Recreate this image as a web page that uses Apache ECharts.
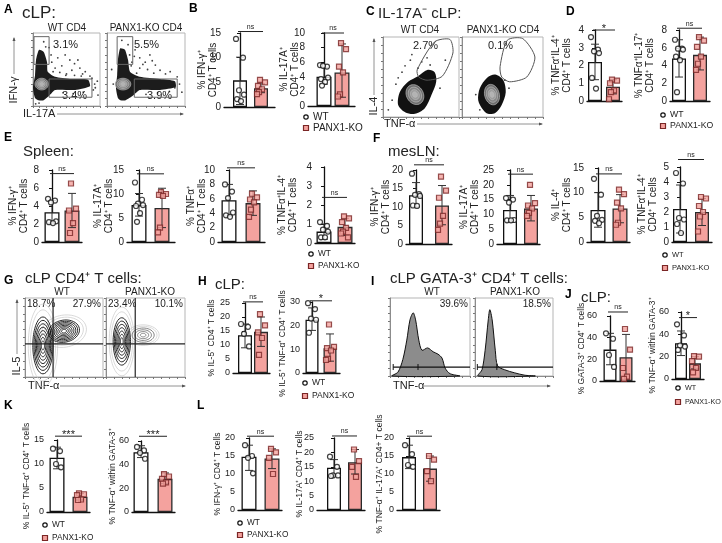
<!DOCTYPE html>
<html><head><meta charset="utf-8"><title>PANX1 figure</title>
<script src="https://cdn.jsdelivr.net/npm/echarts/dist/echarts.min.js"></script>
<style>html,body{margin:0;padding:0;background:#fff}#main{width:722px;height:543px}</style>
</head><body><div id="main"></div>
<script>
var FONT = '"Liberation Sans", Arial, sans-serif';
var PINK = '#F4A29E';
var GROUPS = ['WT', 'PANX1-KO'];
var JIT = [-4, 3, -1, 4, -3, 1, -2];

// ---- bar panel data: mean, [low, high] error ends, individual points ----
// B  cLP
var B1_mean = [5.4, 3.8], B1_err = [[0.5, 10.1], [2.9, 4.7]];
var B1_wt = [13.8, 10.0, 3.4, 2.5, 1.6, 1.2], B1_ko = [5.5, 5.0, 4.3, 3.6, 3.0, 2.6];
var B2_mean = [4.0, 4.6], B2_err = [[3.0, 5.3], [1.2, 8.5]];
var B2_wt = [5.6, 5.4, 5.5, 3.9, 3.7, 3.3, 2.8], B2_ko = [8.6, 7.8, 5.4, 4.6, 1.6, 1.3];
// D  IL-17A- cLP
var D1_mean = [2.2, 0.8], D1_err = [[1.2, 3.2], [0.4, 1.2]];
var D1_wt = [3.6, 2.9, 2.8, 2.7, 1.3, 0.7], D1_ko = [1.2, 1.15, 1.0, 0.6, 0.5, 0.1];
var D2_mean = [4.8, 5.2], D2_err = [[2.7, 6.9], [3.5, 7.2]];
var D2_wt = [6.9, 5.9, 5.9, 5.8, 5.0, 4.6, 1.0], D2_ko = [7.2, 6.8, 6.1, 5.0, 4.2, 3.5];
// E  spleen
var E1_mean = [3.3, 3.5], E1_err = [[2.1, 4.6], [1.6, 5.4]];
var E1_wt = [4.8, 4.6, 4.4, 2.3, 2.2, 2.1], E1_ko = [6.5, 3.7, 3.5, 2.1, 1.0];
var E2_mean = [7.7, 7.1], E2_err = [[5.4, 10.1], [3.0, 11.2]];
var E2_wt = [12.4, 8.8, 8.0, 7.7, 7.5, 6.0, 4.2], E2_ko = [10.4, 10.0, 9.8, 9.6, 3.0, 2.0];
var E3_mean = [5.8, 5.4], E3_err = [[3.6, 8.0], [3.7, 7.1]];
var E3_wt = [8.0, 7.0, 6.1, 4.1, 3.7, 3.5], E3_ko = [6.7, 6.2, 5.9, 5.5, 4.5, 3.5];
var E4_mean = [0.6, 0.85], E4_err = [[0.2, 1.0], [0.4, 1.3]];
var E4_wt = [1.1, 0.9, 0.7, 0.6, 0.3, 0.3], E4_ko = [1.4, 1.3, 1.1, 0.8, 0.6, 0.5, 0.3];
// F  mesLN
var F1_mean = [13.2, 10.4], F1_err = [[10.0, 16.6], [5.2, 15.8]];
var F1_wt = [19.0, 13.5, 13.3, 13.0, 10.4, 10.3], F1_ko = [18.2, 14.4, 12.5, 7.6, 5.5, 3.8];
var F2_mean = [11.5, 12.0], F2_err = [[7.5, 16.4], [7.8, 16.4]];
var F2_wt = [15.5, 15.0, 14.0, 8.1, 8.0, 8.0], F2_ko = [20.0, 13.8, 13.0, 12.0, 10.5, 9.5];
var F3_mean = [6.5, 6.8], F3_err = [[3.0, 10.0], [3.9, 9.6]];
var F3_wt = [12.8, 9.6, 5.3, 4.5, 4.3, 3.8], F3_ko = [10.6, 9.7, 8.0, 6.8, 3.9, 3.5];
var F4_mean = [2.2, 2.0], F4_err = [[0.6, 3.8], [1.1, 2.9]];
var F4_wt = [4.6, 3.9, 1.6, 1.5, 1.2, 0.6], F4_ko = [3.0, 2.9, 2.4, 2.0, 1.7, 0.7];
// H  cLP IL-5
var H1_mean = [13.5, 14.7], H1_err = [[9.0, 17.5], [9.5, 20.0]];
var H1_wt = [17.5, 16.5, 14.0, 9.5], H1_ko = [21.0, 17.0, 14.5, 12.5, 6.5];
var H2_mean = [22.5, 10.5], H2_err = [[18.0, 27.5], [5.0, 16.5]];
var H2_wt = [29.5, 27.0, 23.0, 22.5, 17.0], H2_ko = [20.5, 11.0, 10.5, 9.5, 6.0, 5.5];
// J  cLP GATA-3
var J1_mean = [29, 22], J1_err = [[15, 44], [1, 43]];
var J1_wt = [44, 39, 24, 13], J1_ko = [48, 29, 12, 4, 2];
var J2_mean = [32, 14], J2_err = [[21, 43], [9, 20]];
var J2_wt = [49, 39, 30, 29, 26], J2_ko = [20.5, 20, 16, 10, 6];
// K
var K1_mean = [11.3, 3.2], K1_err = [[9.0, 13.5], [2.5, 3.9]];
var K1_wt = [13.2, 12.7, 10.0, 9.3], K1_ko = [3.9, 3.7, 3.5, 2.6, 2.5];
var K2_mean = [50.5, 28], K2_err = [[46, 56], [24, 33]];
var K2_wt = [55, 52, 50, 45], K2_ko = [32, 30, 28, 25, 24];
// L
var L1_mean = [14.8, 14.3], L1_err = [[11, 18], [11.5, 17]];
var L1_wt = [18, 15, 14.5, 10.2], L1_ko = [17, 16, 14.5, 10];
var L2_mean = [14.7, 16.6], L2_err = [[11.8, 17.5], [12.5, 21]];
var L2_wt = [18.5, 15, 12, 12, 11.8], L2_ko = [21, 17, 15, 11.5];
var L3_mean = [14.7, 11.5], L3_err = [[11.5, 18], [8, 15]];
var L3_wt = [18, 15.5, 12.5, 12], L3_ko = [15, 14, 10.8, 8];

// ---- flow cytometry shapes (axis units 0..100) ----
var A_wt_cloud = [[3,11],[0,25],[3,42],[4.5,63],[9,77],[16,74],[21,60],[22,47],[33,40],[55,37],[82,36],[85,27],[63,22],[33,22],[25,15],[16,8],[7.5,8]];
var A_wt_core = [[13,30,10,8,0]];
var A_wt_dots = [[28,60],[37,66],[48,70],[55,63],[67,63],[33,52],[43,55],[58,49],[70,52],[78,47],[85,41],[49,42],[19,81],[16,88],[4,3],[9,4],[93,25],[97,15],
                 [40,46],[50,44],[62,42],[72,41],[88,38],[92,30],[30,47],[27,70],[24,80],[62,58],[74,44],[45,18],[60,17],[75,19],[90,22],[96,34]];
var A_wt_gates = [[1.5,57,24,95],[24,12,88,37]];
var A_ko_cloud = [[14,11],[11.5,25],[13,42],[14,63],[17,79],[23,77],[27,63],[29.5,47],[42,40],[68,37],[87,34],[88,26],[68,22],[42,22],[33,14],[24,8],[17,8]];
var A_ko_core = [[20.5,30,10,8,0]];
var A_ko_dots = [[29,70],[36,77],[42,66],[49,60],[55,70],[62,56],[68,49],[42,52],[32,60],[27,84],[19,90],[81,47],[74,29],[87,25],[96,19],[58,62],
                 [35,68],[46,57],[52,50],[60,45],[75,44],[90,40],[38,45],[31,55],[8,30],[6,50],[50,16],[65,18],[80,20],[93,30]];
var A_ko_gates = [[13,57,33,95],[35,12,90,37]];
var A_pct = ['3.1%', '3.4%', '5.5%', '3.9%'];

var C_wt_gate = [[45,59],[68,94],[88,97],[92,80],[78,51],[58,46],[47,50]];
var C_wt_cloud = [[29,6],[20,15],[22,31],[33,44],[46,51],[59,59],[68,56],[70,44],[64,28],[55,11],[42,4]];
var C_wt_core = [[42,28,11,13,-30]];
var C_wt_dots = [[29,64],[36,71],[25,56],[17,41],[12,21],[7,9],[51,69],[46,61],[82,71],[75,36],[38,78],[20,49],[62,65],[58,74]];
var C_ko_gate = [[47,63],[56,96],[75,98],[90,75],[80,50],[59,44],[49,50]];
var C_ko_cloud = [[26,9],[20,21],[22,36],[31,49],[41,53],[51,46],[54,31],[49,15],[41,5],[32,4]];
var C_ko_core = [[37,28,9,13,-15]];
var C_ko_dots = [[17,28],[53,46],[58,36],[22,9]];
var C_pct = ['2.7%', '0.1%'];

var G_wt_black = [[23,40,13,36,0],[50,58,20,14,-10]];
var G_ko_black = [[20,45,11,30,0]];
var G_ko_gray = [[47,53,14,9,0]];
var G_wt_quad = [36, 42], G_ko_quad = [37, 42];
var G_pct = ['18.7%', '27.9%', '23.4%', '10.1%'];

var I_wt_hist = [[2.5,0],[10,5],[16,21],[21,46],[25,72],[29,81],[32,72],[36,46],[40,33],[47,36],[54,31],[60,28],[65,23],[69,10],[75,3],[87,0]];
var I_ko_hist = [[4,0],[9,8],[13,33],[17,72],[19,85],[22,72],[26,33],[29,13],[38,8],[51,4],[64,1],[77,0]];
var I_wt_gate = [4, 100, 11.5, 35], I_ko_gate = [3, 100, 11.5, 28];
var I_pct = ['39.6%', '18.5%'];

// ---------------------------------------------------------------
var grids = [], xAxes = [], yAxes = [], series = [], graphics = [];

function txt(x, y, s, size, opt) {
    opt = opt || {};
    graphics.push({type: 'text', x: x, y: y, rotation: opt.rot || 0, silent: true,
        style: {text: s, fontSize: size, fontFamily: FONT, fontWeight: opt.bold ? 'bold' : 'normal',
            fill: opt.color || '#222', align: opt.align || 'left', verticalAlign: opt.va || 'middle', lineHeight: opt.lh || size + 1}});
}

function addBarPanel(p) {
    var i = grids.length;
    var span = p.c1 - p.c0;
    var fs = p.fs || 10;
    grids.push({left: p.x0, top: p.yTop, width: p.x1 - p.x0, height: p.yBot - p.yTop, containLabel: false, outerBoundsMode: 'none'});
    xAxes.push({gridIndex: i, type: 'value', min: -(p.c0 - p.x0) / span, max: 1 + (p.x1 - p.c1) / span,
        axisLine: {show: true, onZero: false, lineStyle: {color: '#111', width: 1.3}},
        axisTick: {show: false}, axisLabel: {show: false}, splitLine: {show: false}});
    yAxes.push({gridIndex: i, type: 'value', min: 0, max: p.max, interval: p.step,
        axisLine: {show: true, lineStyle: {color: '#111', width: 1.3}},
        axisTick: {show: true, length: 3, lineStyle: {color: '#111', width: 1}},
        axisLabel: {fontSize: fs, margin: 3, color: '#222', fontFamily: FONT},
        splitLine: {show: false}});
    series.push({type: 'bar', xAxisIndex: i, yAxisIndex: i, barWidth: p.bw, silent: true, z: 2,
        data: [{value: [0, p.mean[0]], itemStyle: {color: '#fff', borderColor: '#111', borderWidth: 1.3}},
               {value: [1, p.mean[1]], itemStyle: {color: PINK, borderColor: '#2a2a2a', borderWidth: 1.3}}]});
    series.push({type: 'custom', xAxisIndex: i, yAxisIndex: i, silent: true, z: 4, clip: false,
        data: [[0, p.err[0][0], p.err[0][1]], [1, p.err[1][0], p.err[1][1]]],
        renderItem: function (params, api) {
            var x = api.value(0);
            var a = api.coord([x, api.value(1)]), b = api.coord([x, api.value(2)]);
            var c = 4, st = {stroke: '#333', lineWidth: 1};
            return {type: 'group', children: [
                {type: 'line', shape: {x1: a[0], y1: a[1], x2: b[0], y2: b[1]}, style: st},
                {type: 'line', shape: {x1: a[0] - c, y1: a[1], x2: a[0] + c, y2: a[1]}, style: st},
                {type: 'line', shape: {x1: b[0] - c, y1: b[1], x2: b[0] + c, y2: b[1]}, style: st}]};
        }});
    series.push({type: 'scatter', xAxisIndex: i, yAxisIndex: i, silent: true, z: 5, symbol: 'circle', symbolSize: 5,
        itemStyle: {color: '#fff', borderColor: '#111', borderWidth: 1.2},
        data: p.wt.map(function (v, k) { return {value: [0, v], symbolOffset: [JIT[k % JIT.length], 0]}; })});
    series.push({type: 'scatter', xAxisIndex: i, yAxisIndex: i, silent: true, z: 5, symbol: 'rect', symbolSize: 5,
        itemStyle: {color: PINK, borderColor: '#7a2626', borderWidth: 1.2},
        data: p.ko.map(function (v, k) { return {value: [1, v], symbolOffset: [JIT[(k + 2) % JIT.length], 0]}; })});
    var lab = p.sig[1];
    series.push({type: 'custom', xAxisIndex: i, yAxisIndex: i, silent: true, z: 6, clip: false,
        data: [[p.sig[0]]],
        renderItem: function (params, api) {
            var a = api.coord([0, api.value(0)]), b = api.coord([1, api.value(0)]);
            var star = lab !== 'ns';
            return {type: 'group', children: [
                {type: 'line', shape: {x1: a[0] - 2, y1: a[1], x2: b[0] + 2, y2: b[1]}, style: {stroke: '#222', lineWidth: 1}},
                {type: 'text', x: (a[0] + b[0]) / 2, y: star ? a[1] + 4 : a[1] - 1,
                    style: {text: lab, fontSize: star ? 11 : 7, fontFamily: FONT, fill: '#222', align: 'center', verticalAlign: 'bottom'}}]};
        }});
    txt(p.nx, (p.yTop + p.yBot) / 2 + (p.ny || 0), p.name, p.nfs || 10, {rot: Math.PI / 2, align: 'center', lh: (p.nfs || 10) + 1});
}

function addLegend(x, y1, y2, fs) {
    graphics.push({type: 'circle', silent: true, shape: {cx: x, cy: y1, r: 2.2}, style: {fill: '#fff', stroke: '#111', lineWidth: 1.2}});
    graphics.push({type: 'rect', silent: true, shape: {x: x - 2.5, y: y2 - 2.5, width: 5, height: 5}, style: {fill: PINK, stroke: '#7a2626', lineWidth: 1.2}});
    txt(x + 7, y1, GROUPS[0], fs);
    txt(x + 7, y2, GROUPS[1], fs);
}

function addFlowGrid(left, top, width, height) {
    var i = grids.length;
    grids.push({left: left, top: top, width: width, height: height, show: true, borderColor: '#b5b5b5', borderWidth: 1,
        backgroundColor: '#fff', containLabel: false, outerBoundsMode: 'none'});
    var ax = function () {
        return {gridIndex: i, type: 'value', min: 0, max: 100, interval: 10,
            axisLine: {show: true, onZero: false, lineStyle: {color: '#777', width: 0.8}},
            axisTick: {show: true, length: 2, lineStyle: {color: '#777'}},
            axisLabel: {show: false}, splitLine: {show: false}};
    };
    xAxes.push(ax()); yAxes.push(ax());
    return i;
}

function customOn(i, z, fn) {
    series.push({type: 'custom', xAxisIndex: i, yAxisIndex: i, silent: true, clip: false, z: z, data: [[0, 0]], renderItem: fn});
}

function polygon(i, pts, style, z) {
    customOn(i, z, function (params, api) {
        return {type: 'polygon', shape: {points: pts.map(function (q) { return api.coord(q); }), smooth: style.smooth || 0},
            style: {fill: style.fill || 'none', stroke: style.stroke || 'none', lineWidth: style.lw || 1}};
    });
}

function ellipse(api, b, s) {
    var c = api.coord([b[0], b[1]]), sz = api.size([b[2], b[3]]);
    var th = (b[4] || 0) * Math.PI / 180, pts = [];
    for (var k = 0; k < 40; k++) {
        var t = k / 40 * 2 * Math.PI;
        var ex = Math.cos(t) * sz[0] * s, ey = Math.sin(t) * sz[1] * s;
        pts.push([c[0] + ex * Math.cos(th) - ey * Math.sin(th), c[1] + ex * Math.sin(th) + ey * Math.cos(th)]);
    }
    return pts;
}

function rings(i, blobs, scales, style, z) {
    customOn(i, z, function (params, api) {
        var ch = [];
        blobs.forEach(function (b) {
            scales.forEach(function (s, k) {
                ch.push({type: 'polygon', shape: {points: ellipse(api, b, s), smooth: 0.3},
                    style: {fill: style.fill ? style.fill[k] : 'none', stroke: style.stroke, lineWidth: style.lw || 1}});
            });
        });
        return {type: 'group', children: ch};
    });
}

function dots(i, pts) {
    series.push({type: 'scatter', xAxisIndex: i, yAxisIndex: i, silent: true, z: 3, symbolSize: 1.8,
        itemStyle: {color: '#111'}, data: pts});
}

function arrowH(x1, x2, y) {
    graphics.push({type: 'line', silent: true, shape: {x1: x1, y1: y, x2: x2, y2: y}, style: {stroke: '#777', lineWidth: 0.8}});
    graphics.push({type: 'polygon', silent: true, shape: {points: [[x2 + 1, y], [x2 - 3, y - 1.5], [x2 - 3, y + 1.5]]}, style: {fill: '#555'}});
}
function arrowV(x, y1, y2) {
    graphics.push({type: 'line', silent: true, shape: {x1: x, y1: y1, x2: x, y2: y2}, style: {stroke: '#777', lineWidth: 0.8}});
    graphics.push({type: 'polygon', silent: true, shape: {points: [[x, y2 - 1], [x - 1.5, y2 + 3], [x + 1.5, y2 + 3]]}, style: {fill: '#555'}});
}

// ---------------- panel letters and titles ----------------
[['A', 4, 10], ['B', 189, 9], ['C', 366, 12], ['D', 566, 12], ['E', 4, 138], ['F', 373, 139],
 ['G', 4, 281], ['H', 198, 282], ['I', 371, 282], ['J', 565, 295], ['K', 4, 406], ['L', 197, 406]].forEach(function (t) {
    txt(t[1], t[2], t[0], 12, {bold: true, color: '#000'});
});
txt(22, 13, 'cLP:', 17);
txt(378, 14, 'IL-17A⁻ cLP:', 15);
txt(23, 152, 'Spleen:', 15);
txt(388, 152, 'mesLN:', 15);
txt(25, 279, 'cLP CD4⁺ T cells:', 15);
txt(215, 285, 'cLP:', 15);
txt(390, 279, 'cLP GATA-3⁺ CD4⁺ T cells:', 15);
txt(581, 298, 'cLP:', 15);

// ---------------- A: flow plots ----------------
txt(67, 28, 'WT CD4', 10, {align: 'center'});
txt(146, 28, 'PANX1-KO CD4', 10, {align: 'center'});
[[33, 67, A_wt_cloud, A_wt_core, A_wt_dots, A_wt_gates], [107, 78, A_ko_cloud, A_ko_core, A_ko_dots, A_ko_gates]].forEach(function (f) {
    var g = addFlowGrid(f[0], 33, f[1], 73);
    dots(g, f[4]);
    polygon(g, f[2], {fill: '#1c1c1c', smooth: 0.2}, 4);
    rings(g, f[3], [1, 0.75, 0.5, 0.28], {stroke: '#bbb', lw: 0.7, fill: ['#6d6d6d', '#858585', '#9c9c9c', '#b3b3b3']}, 5);
    f[5].forEach(function (r) {
        polygon(g, [[r[0], r[1]], [r[2], r[1]], [r[2], r[3]], [r[0], r[3]]], {stroke: '#666', lw: 1}, 6);
    });
});
txt(53, 45, A_pct[0], 11); txt(62, 96, A_pct[1], 11);
txt(134, 45, A_pct[2], 11); txt(147, 96, A_pct[3], 11);
txt(14, 90, 'IFN-γ', 11, {rot: Math.PI / 2, align: 'center'});
arrowV(14, 74, 38);
txt(23, 114, 'IL-17A', 11);
arrowH(57, 183, 114);

// ---------------- B ----------------
addBarPanel({mean: B1_mean, err: B1_err, wt: B1_wt, ko: B1_ko, max: 15, step: 5, sig: [15.3, 'ns'],
    name: '% IFN-γ⁺\nCD4⁺ T cells', x0: 224, c0: 240, c1: 261, x1: 275, yTop: 33, yBot: 107, bw: 14, nx: 208});
addBarPanel({mean: B2_mean, err: B2_err, wt: B2_wt, ko: B2_ko, max: 10, step: 2, sig: [10.0, 'ns'],
    name: '% IL-17A⁺\nCD4⁺ T cells', x0: 308, c0: 324, c1: 342, x1: 355, yTop: 33, yBot: 106, bw: 15, nx: 290});
addLegend(306, 117, 128, 10);

// ---------------- C: flow plots ----------------
txt(420, 30, 'WT CD4', 10, {align: 'center'});
txt(503, 30, 'PANX1-KO CD4', 10, {align: 'center'});
[[383, 76, C_wt_cloud, C_wt_core, C_wt_dots, C_wt_gate], [462, 81, C_ko_cloud, C_ko_core, C_ko_dots, C_ko_gate]].forEach(function (f) {
    var g = addFlowGrid(f[0], 37, f[1], 80);
    dots(g, f[4]);
    polygon(g, f[2], {fill: '#111', smooth: 0.3}, 4);
    rings(g, f[3], [1, 0.75, 0.5, 0.28], {stroke: '#bbb', lw: 0.7, fill: ['#6d6d6d', '#858585', '#9c9c9c', '#b3b3b3']}, 5);
    polygon(g, f[5], {stroke: '#555', lw: 1, smooth: 0.25}, 6);
});
txt(413, 46, C_pct[0], 11); txt(488, 46, C_pct[1], 11);
txt(374, 106, 'IL-4', 11, {rot: Math.PI / 2, align: 'center'});
arrowV(374, 95, 39);
txt(384, 124, 'TNF-α', 11);
arrowH(417, 542, 124);

// ---------------- D ----------------
addBarPanel({mean: D1_mean, err: D1_err, wt: D1_wt, ko: D1_ko, max: 4, step: 1, sig: [4.0, '*'],
    name: '% TNFα⁺IL-4⁺\nCD4⁺ T cells', x0: 587, c0: 595, c1: 613, x1: 622, yTop: 30, yBot: 101, bw: 14, nx: 562});
addBarPanel({mean: D2_mean, err: D2_err, wt: D2_wt, ko: D2_ko, max: 8, step: 2, sig: [8.2, 'ns'],
    name: '% TNFα⁺IL-17⁺\nCD4⁺ T cells', x0: 670, c0: 679, c1: 700, x1: 710, yTop: 30, yBot: 101, bw: 14, nx: 645});
addLegend(663, 115, 126, 8.7);

// ---------------- E ----------------
addBarPanel({mean: E1_mean, err: E1_err, wt: E1_wt, ko: E1_ko, max: 8, step: 2, sig: [7.6, 'ns'],
    name: '% IFN-γ⁺\nCD4⁺ T cells', x0: 42, c0: 52, c1: 72, x1: 82, yTop: 170, yBot: 242, bw: 15, nx: 19});
addBarPanel({mean: E2_mean, err: E2_err, wt: E2_wt, ko: E2_ko, max: 15, step: 5, sig: [14.2, 'ns'],
    name: '% IL-17A⁺\nCD4⁺ T cells', x0: 127, c0: 139, c1: 162, x1: 175, yTop: 170, yBot: 242, bw: 15, nx: 104});
addBarPanel({mean: E3_mean, err: E3_err, wt: E3_wt, ko: E3_ko, max: 10, step: 2, sig: [10.3, 'ns'],
    name: '% TNFα⁺\nCD4⁺ T cells', x0: 218, c0: 229, c1: 253, x1: 265, yTop: 170, yBot: 242, bw: 15, nx: 197});
addBarPanel({mean: E4_mean, err: E4_err, wt: E4_wt, ko: E4_ko, max: 4, step: 1, sig: [2.4, 'ns'],
    name: '% TNFα⁺IL-4⁺\nCD4⁺ T cells', x0: 315, c0: 324, c1: 345, x1: 355, yTop: 167, yBot: 243, bw: 15, nx: 288});
addLegend(311, 254, 266, 8.3);

// ---------------- F ----------------
addBarPanel({mean: F1_mean, err: F1_err, wt: F1_wt, ko: F1_ko, max: 20, step: 5, sig: [21.4, 'ns'],
    name: '% IFN-γ⁺\nCD4⁺ T cells', x0: 406, c0: 416, c1: 442, x1: 452, yTop: 170, yBot: 244, bw: 14, nx: 381});
addBarPanel({mean: F2_mean, err: F2_err, wt: F2_wt, ko: F2_ko, max: 25, step: 5, sig: [23.6, 'ns'],
    name: '% IL-17A⁺\nCD4⁺ T cells', x0: 497, c0: 510, c1: 531, x1: 540, yTop: 170, yBot: 244, bw: 14, nx: 470});
addBarPanel({mean: F3_mean, err: F3_err, wt: F3_wt, ko: F3_ko, max: 15, step: 5, sig: [13.8, 'ns'],
    name: '% IL-4⁺\nCD4⁺ T cells', x0: 587, c0: 598, c1: 620, x1: 630, yTop: 168, yBot: 242, bw: 15, nx: 562});
addBarPanel({mean: F4_mean, err: F4_err, wt: F4_wt, ko: F4_ko, max: 5, step: 1, sig: [5.5, 'ns'],
    name: '% TNFα⁺IL-4⁺\nCD4⁺ T cells', x0: 672, c0: 680, c1: 702, x1: 712, yTop: 167, yBot: 242, bw: 14, nx: 648});
addLegend(665, 255, 268, 7.5);

// ---------------- G: contour plots ----------------
txt(62, 292, 'WT', 10, {align: 'center'});
txt(150, 292, 'PANX1-KO', 10, {align: 'center'});
(function () {
    var g1 = addFlowGrid(25, 298, 78, 79);
    rings(g1, G_wt_black, [1.45, 1.25], {stroke: '#c8c8c8', lw: 0.7}, 3);
    rings(g1, G_wt_black, [1, 0.88, 0.76, 0.64, 0.52, 0.4, 0.28, 0.16], {stroke: '#111', lw: 0.9}, 4);
    var g2 = addFlowGrid(106, 298, 79, 79);
    rings(g2, G_ko_black.concat(G_ko_gray), [1.45, 1.25], {stroke: '#c8c8c8', lw: 0.7}, 3);
    rings(g2, G_ko_black, [1, 0.86, 0.72, 0.58, 0.44, 0.3, 0.16], {stroke: '#111', lw: 0.9}, 4);
    rings(g2, G_ko_gray, [1, 0.75, 0.5, 0.25], {stroke: '#666', lw: 0.8}, 4);
    [[g1, G_wt_quad], [g2, G_ko_quad]].forEach(function (q) {
        customOn(q[0], 6, function (params, api) {
            var a = api.coord([q[1][0], 0]), b = api.coord([q[1][0], 100]);
            var c = api.coord([0, q[1][1]]), d = api.coord([100, q[1][1]]);
            return {type: 'group', children: [
                {type: 'line', shape: {x1: a[0], y1: a[1], x2: b[0], y2: b[1]}, style: {stroke: '#222', lineWidth: 1.2}},
                {type: 'line', shape: {x1: c[0], y1: c[1], x2: d[0], y2: d[1]}, style: {stroke: '#222', lineWidth: 1.2}}]};
        });
    });
})();
txt(27, 304, G_pct[0], 10); txt(101, 304, G_pct[1], 10, {align: 'right'});
txt(108, 304, G_pct[2], 10); txt(183, 304, G_pct[3], 10, {align: 'right'});
txt(17, 366, 'IL-5', 11, {rot: Math.PI / 2, align: 'center'});
arrowV(17, 354, 300);
txt(28, 386, 'TNF-α', 11);
arrowH(60, 185, 386);

// ---------------- H ----------------
addBarPanel({mean: H1_mean, err: H1_err, wt: H1_wt, ko: H1_ko, max: 25, step: 5, sig: [25.4, 'ns'], fs: 9,
    name: '% IL-5⁺ CD4⁺ T cells', nfs: 8.5, x0: 233, c0: 245, c1: 261, x1: 270, yTop: 303, yBot: 373, bw: 14, nx: 212});
addBarPanel({mean: H2_mean, err: H2_err, wt: H2_wt, ko: H2_ko, max: 30, step: 10, sig: [30.5, '*'], fs: 9,
    name: '% IL-5⁺ TNF-α⁺ CD4⁺ T cells', nfs: 8.5, ny: 6, x0: 303, c0: 312, c1: 330, x1: 340, yTop: 302, yBot: 373, bw: 13, nx: 283});
addLegend(305, 383, 396, 8.5);

// ---------------- I: histograms ----------------
txt(432, 292, 'WT', 10, {align: 'center'});
txt(515, 292, 'PANX1-KO', 10, {align: 'center'});
[[390, 80, I_wt_hist, I_wt_gate], [475, 78, I_ko_hist, I_ko_gate]].forEach(function (f) {
    var g = addFlowGrid(f[0], 298, f[1], 78);
    polygon(g, f[2], {fill: '#8c8c8c', stroke: '#111', lw: 1, smooth: 0.3}, 4);
    var gt = f[3];
    customOn(g, 6, function (params, api) {
        var a = api.coord([gt[0], gt[2]]), b = api.coord([gt[1], gt[2]]), t = api.coord([gt[3], gt[2]]);
        return {type: 'group', children: [
            {type: 'line', shape: {x1: a[0], y1: a[1], x2: b[0], y2: b[1]}, style: {stroke: '#111', lineWidth: 1.2}},
            {type: 'line', shape: {x1: a[0], y1: a[1] - 3, x2: a[0], y2: a[1] + 3}, style: {stroke: '#111', lineWidth: 1}},
            {type: 'line', shape: {x1: t[0], y1: t[1] - 3, x2: t[0], y2: t[1] + 3}, style: {stroke: '#111', lineWidth: 1}}]};
    });
});
txt(468, 304, I_pct[0], 10, {align: 'right'});
txt(551, 304, I_pct[1], 10, {align: 'right'});
txt(393, 386, 'TNF-α', 11);
arrowH(422, 550, 386);

// ---------------- J ----------------
addBarPanel({mean: J1_mean, err: J1_err, wt: J1_wt, ko: J1_ko, max: 60, step: 20, sig: [63.7, 'ns'], fs: 9,
    name: '% GATA-3⁺ CD4⁺ T cells', nfs: 8.5, x0: 600, c0: 610, c1: 626, x1: 635, yTop: 316, yBot: 381, bw: 13, nx: 582});
addBarPanel({mean: J2_mean, err: J2_err, wt: J2_wt, ko: J2_ko, max: 60, step: 20, sig: [55, '*'], fs: 9,
    name: '% TNF-α⁺ within GATA-3⁺', nfs: 8.5, x0: 672, c0: 681, c1: 695, x1: 704, yTop: 312, yBot: 379, bw: 12, nx: 653});
addLegend(678, 388, 402, 7.2);

// ---------------- K ----------------
addBarPanel({mean: K1_mean, err: K1_err, wt: K1_wt, ko: K1_ko, max: 15, step: 5, sig: [15.8, '***'], fs: 9,
    name: '% IL-5⁺ TNF-α⁺ CD4⁺ T cells', nfs: 8.5, x0: 47, c0: 57, c1: 80, x1: 90, yTop: 440, yBot: 512, bw: 15, nx: 27});
addBarPanel({mean: K2_mean, err: K2_err, wt: K2_wt, ko: K2_ko, max: 60, step: 20, sig: [64, '***'], fs: 9,
    name: '% TNF-α⁺ within GATA-3⁺', nfs: 8.5, x0: 132, c0: 141, c1: 165, x1: 175, yTop: 441, yBot: 512, bw: 15, nx: 113});
addLegend(45, 525, 538, 8.3);

// ---------------- L ----------------
addBarPanel({mean: L1_mean, err: L1_err, wt: L1_wt, ko: L1_ko, max: 20, step: 5, sig: [20.5, 'ns'], fs: 9,
    name: '% IFN-γ⁺ CD4⁺ T cells', nfs: 8.5, x0: 238, c0: 249, c1: 272, x1: 282, yTop: 438, yBot: 510, bw: 15, nx: 218});
addBarPanel({mean: L2_mean, err: L2_err, wt: L2_wt, ko: L2_ko, max: 25, step: 5, sig: [25.7, 'ns'], fs: 9,
    name: '% IL-17A⁺ CD4⁺ T cells', nfs: 8.5, x0: 317, c0: 334, c1: 355, x1: 365, yTop: 438, yBot: 510, bw: 14, nx: 300});
addBarPanel({mean: L3_mean, err: L3_err, wt: L3_wt, ko: L3_ko, max: 20, step: 5, sig: [20.5, 'ns'], fs: 9,
    name: '% TNF-α⁺ IL-17A⁺ CD4+ T cells', nfs: 8.5, x0: 397, c0: 409, c1: 430, x1: 440, yTop: 438, yBot: 510, bw: 14, nx: 380});
addLegend(240, 523, 535, 8.3);

var chart = echarts.init(document.getElementById('main'), null, {renderer: 'canvas', width: 722, height: 543});
chart.setOption({
    animation: false,
    backgroundColor: '#fff',
    grid: grids,
    xAxis: xAxes,
    yAxis: yAxes,
    series: series,
    graphic: graphics
});
</script></body></html>
